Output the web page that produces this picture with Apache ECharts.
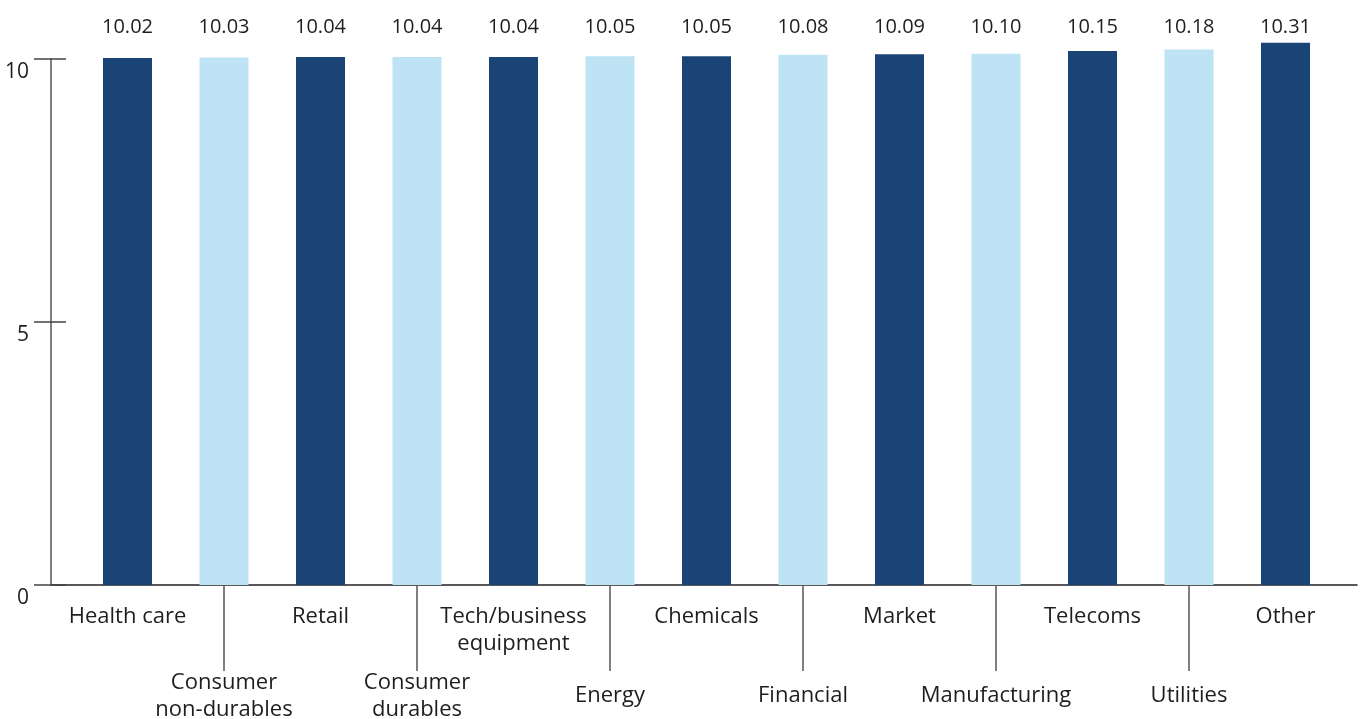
<!DOCTYPE html>
<html>
<head>
<meta charset="utf-8">
<script src="https://cdn.jsdelivr.net/npm/echarts@6/dist/echarts.min.js"></script>
<style>
  html, body { margin: 0; padding: 0; background: #fff; }
  #chart { width: 1361px; height: 719px; }
</style>
</head>
<body>
<div id="chart"></div>
<script>
const chart = echarts.init(document.getElementById("chart"));

// data
const categories = [
  "Health care", "Consumer\nnon-durables", "Retail", "Consumer\ndurables",
  "Tech/business\nequipment", "Energy", "Chemicals", "Financial", "Market",
  "Manufacturing", "Telecoms", "Utilities", "Other",
];
const values = [10.02, 10.03, 10.04, 10.04, 10.04, 10.05, 10.05, 10.08, 10.09, 10.10, 10.15, 10.18, 10.31];
const yTicks = [0, 5, 10];

const darkBlue = "#1b4476";
const lightBlue = "#bee3f4";
const font = "'Open Sans', sans-serif";
const textColor = "#1e1e1e";

const isEven = (i) => i % 2 === 0;
const isOdd = (i) => i % 2 === 1;

const option = {
  animation: false,
  textStyle: { fontFamily: font },
  grid: [
    // axis lines only
    { left: 51, right: 4, top: 59, bottom: 134, outerBoundsMode: "none" },
    // bars
    { left: 79.25, right: 27.25, top: 59, bottom: 134, outerBoundsMode: "none" },
  ],
  xAxis: [
    {
      gridIndex: 0,
      type: "value",
      min: 0,
      max: 1,
      axisLine: { show: true, lineStyle: { color: "#222", width: 1.5 } },
      axisTick: { show: false },
      axisLabel: { show: false },
      splitLine: { show: false },
    },
    {
      // upper row of labels + leader lines for the lower row
      gridIndex: 1,
      type: "category",
      data: categories,
      position: "bottom",
      axisLine: { show: false },
      axisTick: {
        show: true,
        alignWithLabel: true,
        interval: (i) => isOdd(i),
        length: 86,
        lineStyle: { color: "#555", width: 1.5 },
      },
      axisLabel: {
        interval: (i) => isEven(i),
        margin: 18,
        verticalAlign: "top",
        lineHeight: 27,
        fontSize: 22,
        fontFamily: font,
        color: textColor,
      },
    },
    {
      // lower row of labels
      gridIndex: 1,
      type: "category",
      data: categories,
      position: "bottom",
      axisLine: { show: false },
      axisTick: { show: false },
      axisLabel: {
        interval: (i) => isOdd(i),
        margin: 111,
        verticalAlign: "middle",
        lineHeight: 27,
        fontSize: 22,
        fontFamily: font,
        color: textColor,
      },
    },
    {
      // value labels along the top
      gridIndex: 1,
      type: "category",
      data: categories,
      position: "top",
      axisLine: { show: false },
      axisTick: { show: false },
      axisLabel: {
        interval: 0,
        margin: 32,
        verticalAlign: "middle",
        fontSize: 20,
        fontFamily: font,
        color: textColor,
        formatter: (v, i) => values[i].toFixed(2),
      },
    },
  ],
  yAxis: [
    {
      gridIndex: 0,
      type: "value",
      position: "left",
      min: yTicks[0],
      max: yTicks[yTicks.length - 1],
      interval: yTicks[1] - yTicks[0],
      axisLine: { show: true, lineStyle: { color: "#555", width: 1.5 } },
      axisTick: { show: true, length: 17, lineStyle: { color: "#444", width: 1.5 } },
      axisLabel: {
        margin: 22,
        verticalAlign: "top",
        padding: [3, 0, 0, 0],
        fontSize: 21,
        fontFamily: font,
        color: textColor,
      },
      splitLine: { show: false },
    },
    {
      gridIndex: 0,
      type: "value",
      position: "left",
      min: yTicks[0],
      max: yTicks[yTicks.length - 1],
      interval: yTicks[1] - yTicks[0],
      axisLine: { show: false },
      axisTick: { show: true, inside: true, length: 15, lineStyle: { color: "#444", width: 1.5 } },
      axisLabel: { show: false },
      splitLine: { show: false },
    },
    {
      gridIndex: 1,
      type: "value",
      min: 0,
      max: 10,
      show: false,
    },
  ],
  series: [
    {
      type: "bar",
      xAxisIndex: 1,
      yAxisIndex: 2,
      data: values,
      barWidth: 49,
      clip: false,
      itemStyle: {
        color: (p) => (isEven(p.dataIndex) ? darkBlue : lightBlue),
      },
    },
  ],
};

chart.setOption(option);
</script>
</body>
</html>
